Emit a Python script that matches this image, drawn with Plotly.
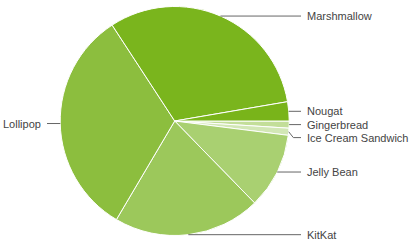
import math
import plotly.graph_objects as go

labels = ["Gingerbread", "Ice Cream Sandwich", "Jelly Bean", "KitKat", "Lollipop", "Marshmallow", "Nougat"]
values = [1.0, 1.0, 10.7, 20.8, 32.3, 31.5, 2.7]
colors = ["#c3de99", "#d2e7b5", "#a9d071", "#9cc85b", "#8cbe3e", "#7ab51d", "#79b41a"]

W, H = 414, 248
CX, CY, R = 174.7, 121.0, 114.5

fig = go.Figure(go.Pie(
    labels=labels, values=values, sort=False, direction="clockwise", rotation=90,
    marker=dict(colors=colors, line=dict(color="white", width=1)),
    textinfo="none", hoverinfo="label+percent", showlegend=False,
    domain=dict(x=[(CX - R) / W, (CX + R) / W], y=[1 - (CY + R) / H, 1 - (CY - R) / H]),
))

def px(x):
    return x / W

def py(y):
    return 1 - y / H

total = sum(values)
cum = 0.0
pts = []
for lab, v in zip(labels, values):
    mid = (cum + v / 2) / total * 2 * math.pi
    cum += v
    ex = CX + R * math.cos(mid)
    ey = CY + R * math.sin(mid)
    pts.append([lab, ex, ey, ey])

# simple collision avoidance on right side (top-down order)
right = sorted([p for p in pts if p[1] >= CX], key=lambda p: p[2])
for i in range(1, len(right)):
    if right[i][3] < right[i - 1][3] + 13:
        right[i][3] = right[i - 1][3] + 13

shapes = []
annotations = []
line_style = dict(color="#666666", width=1)
for lab, ex, ey, ly in pts:
    if ex >= CX:
        x_end, tx, anchor = 301, 305, "left"
        bx = ex + abs(ly - ey) * 0.8 if ly != ey else ex
    else:
        x_end, tx, anchor = 47, 43, "right"
        bx = ex - abs(ly - ey) * 0.8 if ly != ey else ex
    if ly != ey:
        shapes.append(dict(type="line", xref="paper", yref="paper",
                           x0=px(ex), y0=py(ey), x1=px(bx), y1=py(ly), line=line_style))
    shapes.append(dict(type="line", xref="paper", yref="paper",
                       x0=px(bx), y0=py(ly), x1=px(x_end), y1=py(ly), line=line_style))
    annotations.append(dict(xref="paper", yref="paper", x=px(tx), y=py(ly),
                            text=lab, showarrow=False, xanchor=anchor, yanchor="middle",
                            font=dict(family="Liberation Sans, Arial, sans-serif", size=11, color="#444444")))

fig.update_layout(
    width=W, height=H, margin=dict(l=0, r=0, t=0, b=0),
    paper_bgcolor="white", plot_bgcolor="white",
    shapes=shapes, annotations=annotations,
)

fig.write_html("out.html")
